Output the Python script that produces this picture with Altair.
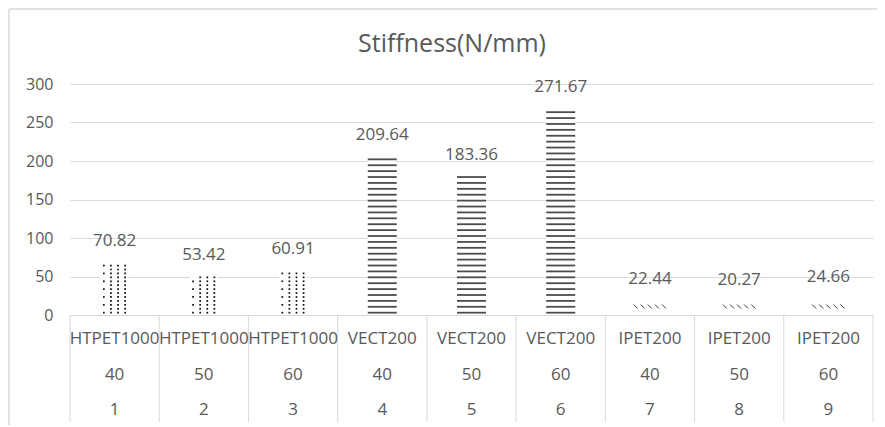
import altair as alt
import pandas as pd

# ---- data ----
specimen = ["1", "2", "3", "4", "5", "6", "7", "8", "9"]
materials = ["HTPET1000", "HTPET1000", "HTPET1000",
             "VECT200", "VECT200", "VECT200",
             "IPET200", "IPET200", "IPET200"]
speeds = ["40", "50", "60", "40", "50", "60", "40", "50", "60"]
stiffness = [70.82, 53.42, 60.91, 209.64, 183.36, 271.67, 22.44, 20.27, 24.66]
y_ticks = [0, 50, 100, 150, 200, 250, 300]

W, H = 803, 231
GRAY = "#595959"
GRID = "#d9d9d9"
FONT = "Open Sans"

df = pd.DataFrame({
    "key": specimen,
    "material": materials,
    "speed": speeds,
    "value": stiffness,
    "label": [f"{v:.2f}" for v in stiffness],
})

# texture rows derived from each bar's value (pattern fill imitation)
line_rows, dot_rows, hatch_rows = [], [], []
for k, m, v in zip(specimen, materials, stiffness):
    if m.startswith("VECT"):
        y = 3.0
        while y <= v - 3:
            line_rows.append({"key": k, "y": y})
            y += 7.66
    elif m.startswith("HTPET"):
        y, r = 3.0, 0
        while y <= v - 2:
            for c in (1, 3, 5, 7):
                if c == 1 and r % 2:
                    continue
                dot_rows.append({"key": k, "y": y, "col": c})
            y += 5.1
            r += 1
    else:
        y = 11.0
        while y <= v - 6:
            for c in (0, 2, 4, 6, 8):
                hatch_rows.append({"key": k, "y": y, "col": c})
            y += 15.0

lines_df = pd.DataFrame(line_rows)
dots_df = pd.DataFrame(dot_rows)
hatch_df = pd.DataFrame(hatch_rows)

xscale = alt.Scale(domain=specimen, paddingInner=0, paddingOuter=0)
yscale = alt.Scale(domain=[0, 300])
yaxis = alt.Axis(values=y_ticks, grid=True, gridColor=GRID, gridWidth=1,
                 domain=False, ticks=False, labelFontSize=16, labelColor=GRAY,
                 labelFont=FONT, labelPadding=17, title=None)
offscale = alt.Scale(domain=list(range(9)), paddingInner=0, paddingOuter=0,
                     range=[30.3, 58.7])


def X(**kw):
    return alt.X("key:N", scale=xscale, axis=None, **kw)


def Y(field):
    return alt.Y(f"{field}:Q", scale=yscale, axis=yaxis)


bars = alt.Chart(df).mark_bar(size=28, color="white").encode(x=X(), y=Y("value"))

lines = alt.Chart(lines_df).mark_tick(
    size=29, thickness=1.8, color="#000", orient="horizontal"
).encode(x=X(), y=Y("y"))

dots = alt.Chart(dots_df).mark_square(size=3, color="#111", opacity=1).encode(
    x=X(), y=Y("y"), xOffset=alt.XOffset("col:O", scale=offscale)
)

hatch = alt.Chart(hatch_df).mark_point(
    shape="M -1 -1 L 1 1", size=16, filled=False, strokeWidth=1, color="#333", opacity=1
).encode(x=X(), y=Y("y"), xOffset=alt.XOffset("col:O", scale=offscale))

labels = alt.Chart(df).mark_text(
    dy=-19, fontSize=17, color=GRAY, font=FONT, baseline="middle"
).encode(x=X(), y=Y("value"), text="label:N")

row1 = alt.Chart(df).mark_text(fontSize=17, color=GRAY, font=FONT, baseline="middle").encode(
    x=X(), y=alt.value(H + 24), text="material:N")
row2 = alt.Chart(df).mark_text(fontSize=17, color=GRAY, font=FONT, baseline="middle").encode(
    x=X(), y=alt.value(H + 60), text="speed:N")
row3 = alt.Chart(df).mark_text(fontSize=17, color=GRAY, font=FONT, baseline="middle").encode(
    x=X(), y=alt.value(H + 95), text="key:N")

seps = alt.Chart(df).mark_rule(color=GRID, strokeWidth=1).encode(
    x=X(bandPosition=0), y=alt.value(H), y2=alt.value(H + 107))
sep_end = alt.Chart(df).transform_filter(alt.datum.key == specimen[-1]).mark_rule(
    color=GRID, strokeWidth=1).encode(
    x=X(bandPosition=1), y=alt.value(H), y2=alt.value(H + 107))

one = pd.DataFrame({"a": [0]})
border_left = alt.Chart(one).mark_rule(color=GRID, strokeWidth=1.5).encode(
    x=alt.value(-61), y=alt.value(-75), y2=alt.value(H + 110))
border_top = alt.Chart(one).mark_rule(color=GRID, strokeWidth=1.5).encode(
    x=alt.value(-61), x2=alt.value(W + 4), y=alt.value(-75))

title = alt.Chart(one).mark_text(
    fontSize=25, color=GRAY, font=FONT, baseline="alphabetic", align="center"
).encode(x=alt.value(382), y=alt.value(-32), text=alt.value("Stiffness(N/mm)"))

chart = alt.layer(
    border_left, border_top, title,
    bars, lines, dots, hatch, labels,
    seps, sep_end, row1, row2, row3,
).properties(
    width=W, height=H,
    autosize=alt.AutoSizeParams(type="none"),
    padding={"left": 62, "top": 76, "right": 4, "bottom": 110},
).configure_view(stroke=None)

chart.save("out.html", embed_options={"renderer": "svg", "actions": False})
